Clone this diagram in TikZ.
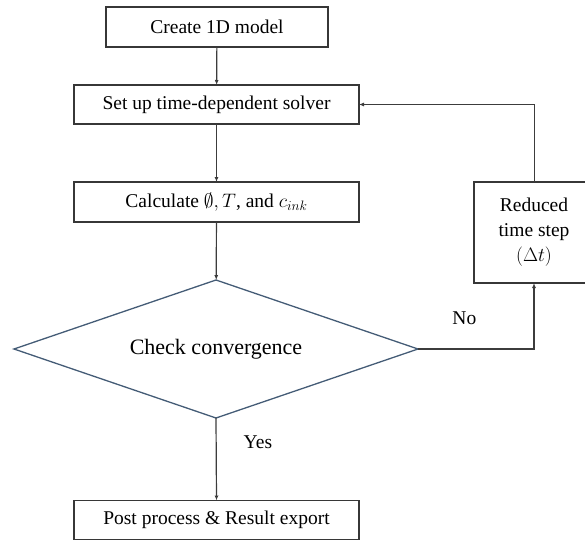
\RequirePackage{fix-cm}
\documentclass[tikz,border=0pt]{standalone}
\usepackage{amsmath}
\usepackage{fontspec}
\setmainfont{Liberation Serif}
\usepackage{tikz}
\usetikzlibrary{shapes.geometric,arrows.meta}
\definecolor{boxgray}{RGB}{55,55,55}
\definecolor{linegray}{RGB}{60,60,60}
\definecolor{diamondblue}{RGB}{68,92,118}

\begin{document}
\begin{tikzpicture}[x=1pt,y=-1pt,
    box/.style={draw=boxgray,line width=1.3pt,inner sep=0pt,outer sep=0pt,
        minimum height=39pt,font=\fontsize{19.5}{25}\selectfont},
    decision/.style={diamond,aspect=2.9,draw=diamondblue,line width=1.3pt,inner sep=0pt,outer sep=0pt,
        minimum width=404pt,minimum height=138pt,font=\fontsize{22}{26}\selectfont},
    flow/.style={draw=linegray,line width=1.2pt,-{Latex[length=5pt,width=4pt]}},
    label/.style={inner sep=0pt,font=\fontsize{19.5}{25}\selectfont}]
    \useasboundingbox (0,0) rectangle (585,543);
    % Draw the main boxes
    \node[box,minimum width=222pt,minimum height=40pt] (create) at (217,27) {Create 1D model};
    \node[box,minimum width=285pt] (setup) at (216.5,104.5) {Set up time-dependent solver};
    \node[box,minimum width=285pt,minimum height=40pt] (calc) at (216.5,202) {Calculate $\emptyset, T$, and $c_{ink}$};
    \node[decision] (check) at (216,349) {Check convergence};
    \node[box,minimum width=285pt] (post) at (216.5,520) {Post process \& Result export};
    % Draw the side box
    \node[box,minimum width=120pt,minimum height=101pt,align=center] (reduced) at (534,232.5)
        {Reduced\\time step\\$(\Delta t)$};
    % Draw the arrows
    \draw[flow] (create) -- (setup);
    \draw[flow] (setup) -- (calc);
    \draw[flow] (calc) -- (check);
    \draw[flow] (check.south) -- node[label,pos=0.29,right=27pt] (yes) {Yes} (post.north);
    \draw[flow] (check.east) -| node[label,pos=0.2,above=24pt] (no) {No} (reduced.south);
    \draw[flow,line width=0.8pt] (reduced.north) |- (setup.east);
\end{tikzpicture}
\end{document}
